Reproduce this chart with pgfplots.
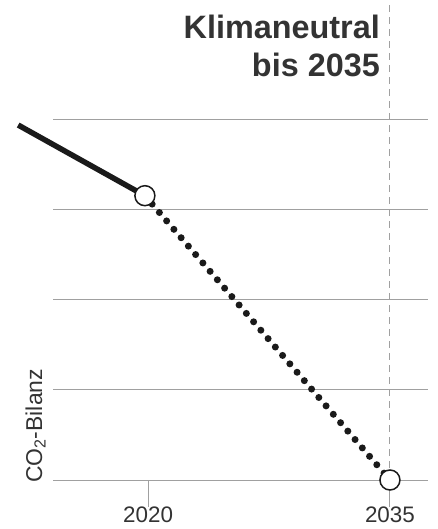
\documentclass[border=0pt]{standalone}
\usepackage{fontspec}
\setmainfont{Liberation Sans}
\usepackage{pgfplots}
\pgfplotsset{compat=1.18}
\definecolor{gridc}{HTML}{A0A0A0}
\definecolor{ink}{HTML}{1A1A1A}
\definecolor{txt}{HTML}{333333}
\begin{document}
\begin{tikzpicture}[x=1bp,y=1bp]
\begin{axis}[
  at={(53bp,49bp)}, anchor=south west,
  scale only axis, width=375bp, height=360bp,
  xmin=2014.1, xmax=2037.36, ymin=0, ymax=4,
  clip=false,
  axis line style={draw=none},
  xtick={2020,2035}, ytick={0,1,2,3,4}, yticklabels={},
  ymajorgrids, grid style={gridc, line width=1bp},
  y tick style={draw=none},
  x tick style={gridc, line width=1bp},
  tick align=outside, xtick pos=bottom, ytick pos=left, major tick length=27bp,
  xticklabel style={font=\fontsize{22.5}{23}\selectfont, text=txt, anchor=base, inner sep=0pt, text depth=0pt, yshift=-15.5bp},
  /pgf/number format/1000 sep={}, /pgf/number format/assume math mode=true,
]
\draw[gridc, dash pattern=on 7bp off 5bp, line width=1bp] (axis cs:2035,0) -- (axis cs:2035,5.333);
\addplot[ink, line width=5.5bp, line cap=butt] coordinates {(2011.94,3.944) (2019.8,3.159)};
\addplot[ink, line width=7bp, line cap=round, dash pattern=on 0bp off 11.1bp] coordinates {(2019.8,3.159) (2035,0)};
\addplot[only marks, mark=*, mark size=10bp, mark options={fill=white, draw=ink, line width=1.5bp}] coordinates {(2019.8,3.159) (2035,0)};
\end{axis}
\node[rotate=90, anchor=base west, font=\fontsize{23}{23}\selectfont, text=txt, inner sep=0] at (42bp,46bp) {CO\textsubscript{2}-Bilanz};
\node[anchor=base east, font=\bfseries\fontsize{32.5}{38}\selectfont, text=txt, inner sep=0] at (380bp,490bp) {Klimaneutral};
\node[anchor=base east, font=\bfseries\fontsize{32.5}{38}\selectfont, text=txt, inner sep=0] at (380bp,452bp) {bis 2035};
\pgfresetboundingbox
\path (0,0) rectangle (438bp,529bp);
\end{tikzpicture}
\end{document}
